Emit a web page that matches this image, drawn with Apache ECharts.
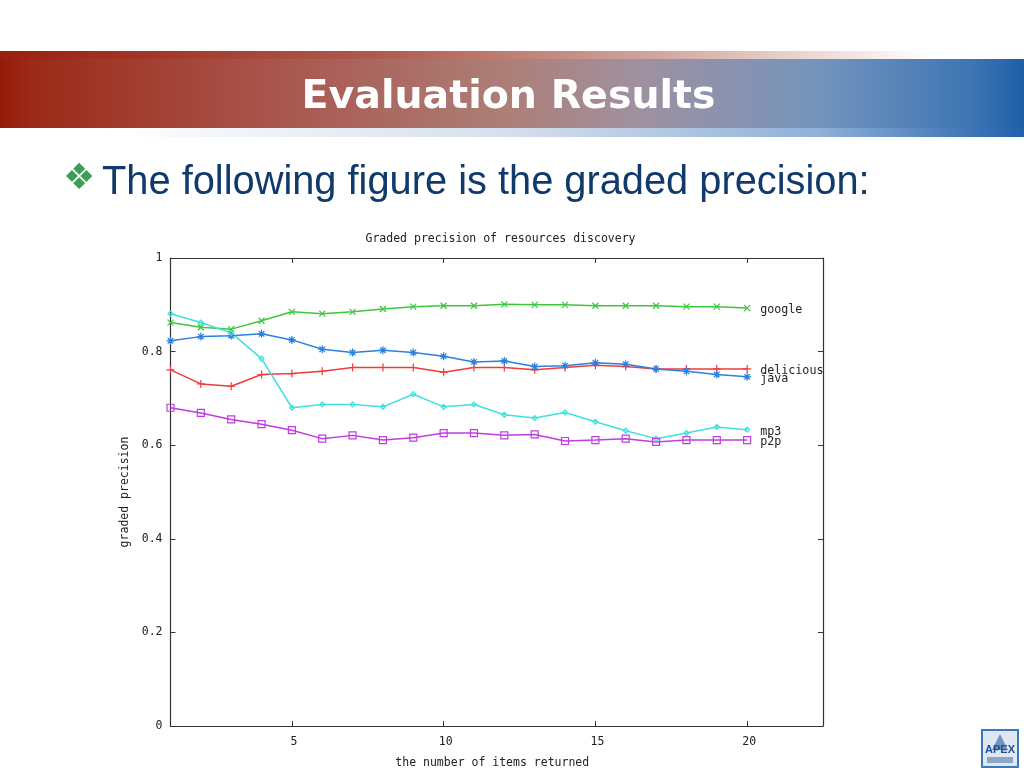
<!DOCTYPE html>
<html>
<head>
<meta charset="utf-8">
<style>html,body{margin:0;padding:0;background:#fff}#c{width:1024px;height:768px}</style>
<script src="https://cdn.jsdelivr.net/npm/echarts@6/dist/echarts.min.js"></script>
</head>
<body>
<div id="c"></div>
<script>
const items = [1,2,3,4,5,6,7,8,9,10,11,12,13,14,15,16,17,18,19,20];
const delicious = [.761,.731,.726,.751,.753,.758,.766,.766,.766,.756,.766,.766,.761,.766,.771,.768,.763,.763,.763,.763];
const google = [.862,.852,.848,.866,.885,.881,.885,.891,.896,.898,.898,.901,.900,.900,.898,.898,.898,.896,.896,.893];
const java = [.823,.832,.834,.838,.825,.805,.798,.803,.798,.790,.778,.780,.768,.770,.776,.773,.763,.758,.751,.746];
const mp3 = [.881,.862,.840,.785,.680,.687,.687,.682,.709,.682,.687,.665,.658,.670,.650,.631,.614,.626,.639,.633];
const p2p = [.680,.669,.655,.645,.632,.614,.621,.611,.616,.626,.626,.621,.623,.609,.611,.614,.607,.611,.611,.611];
const xTicks = [5,10,15,20];
const headline = 'Evaluation Results';
const bullet = 'The following figure is the graded precision:';
const chartTitle = 'Graded precision of resources discovery';
const xName = 'the number of items returned';
const yName = 'graded precision';

const mono = '"DejaVu Sans Mono"';
const ink = '#333';
const symX = 'path://M0 0L10 10M10 0L0 10';
const symPlus = 'path://M5 0L5 10M0 5L10 5';
const symStar = 'path://M5 0L5 10M0 5L10 5M1.5 1.5L8.5 8.5M8.5 1.5L1.5 8.5';
const symDiamond = 'path://M5 1L9 5L5 9L1 5Z';
const symSquare = 'path://M1 1L9 1L9 9L1 9Z';

function line(name, values, color, symbol, size){
  return {
    name, type:'line', data: items.map((x,i)=>[x,values[i]]),
    symbol, symbolSize:size, showSymbol:true, clip:false, silent:true,
    lineStyle:{color,width:1.5},
    itemStyle:{color:'rgba(0,0,0,0)',borderColor:color,borderWidth:1.2},
    endLabel:{show:true,formatter:name,position:'right',distance:13,offset:[0,2],color:'#222',
      fontFamily:mono,fontSize:11.7,fontWeight:'normal'}
  };
}
const chart = echarts.init(document.getElementById('c'),null,{renderer:'canvas'});
const axisLine = {show:true,onZero:false,lineStyle:{color:ink,width:1.2}};
const grad=(stops)=>({type:'linear',x:0,y:0,x2:1,y2:0,colorStops:stops.map(s=>({offset:s[0],color:s[1]}))});
chart.setOption({
  animation:false,
  backgroundColor:'#fff',
  title:{text:chartTitle,left:495.5,top:228,textAlign:'center',
    textStyle:{fontFamily:mono,fontSize:11.5,fontWeight:'normal',color:'#222'}},
  grid:{left:170.5,right:201,top:258,bottom:42,containLabel:false,outerBoundsMode:'none'},
  xAxis:[
    {type:'value',min:1,max:22.5,position:'bottom',name:xName,nameLocation:'middle',nameGap:31,
     nameTextStyle:{fontFamily:mono,fontSize:11.5,color:'#222',padding:[0,0,0,-9]},
     axisLine,splitLine:{show:false},
     axisTick:{show:true,inside:true,length:5,customValues:xTicks,lineStyle:{color:ink}},
     axisLabel:{customValues:xTicks,margin:10,padding:[0,0,0,4],fontFamily:mono,fontSize:11.5,color:'#222'}},
    {type:'value',min:1,max:22.5,position:'top',axisLine,splitLine:{show:false},
     axisTick:{show:true,inside:true,length:5,customValues:xTicks,lineStyle:{color:ink}},
     axisLabel:{show:false}}
  ],
  yAxis:[
    {type:'value',min:0,max:1,interval:.2,position:'left',name:yName,nameLocation:'middle',nameGap:39,
     nameTextStyle:{fontFamily:mono,fontSize:11.5,color:'#222'},
     axisLine,splitLine:{show:false},
     axisTick:{show:true,inside:true,length:5,lineStyle:{color:ink}},
     axisLabel:{margin:8,fontFamily:mono,fontSize:11.5,color:'#222'}},
    {type:'value',min:0,max:1,interval:.2,position:'right',axisLine,splitLine:{show:false},
     axisTick:{show:true,inside:true,length:5,lineStyle:{color:ink}},
     axisLabel:{show:false}}
  ],
  series:[
    line('delicious',delicious,'#f03c3c',symPlus,8),
    line('google',google,'#3fc63f',symX,6),
    line('java',java,'#2a80e0',symStar,8),
    line('mp3',mp3,'#40e0e0',symDiamond,5),
    line('p2p',p2p,'#c03ce0',symSquare,7)
  ],
  graphic:[
    {type:'rect',silent:true,shape:{x:0,y:51,width:930,height:9},
     style:{fill:grad([[0,'#9a1f0e'],[.4,'#ad5a4e'],[.7,'#d0a49c'],[1,'#ffffff']])}},
    {type:'rect',silent:true,shape:{x:0,y:128,width:1024,height:9},
     style:{fill:grad([[0,'#ffffff'],[.1,'#ffffff'],[.5,'#d5dfec'],[.8,'#8fb0d8'],[1,'#2161ab']])}},
    {type:'rect',silent:true,shape:{x:0,y:59,width:1024,height:69},
     style:{fill:grad([[0,'#981a08'],[.03,'#9b2a18'],[.25,'#a9524a'],[.5,'#ac8078'],[.62,'#a090a0'],[.8,'#7494bd'],[.95,'#3d75b4'],[1,'#1d5ea8']])}},
    {type:'text',silent:true,style:{text:headline,x:508.5,y:98,align:'center',verticalAlign:'middle',
      fill:'#fff',font:'bold 39.5px "DejaVu Sans"'}},
    {type:'text',silent:true,style:{text:'\u2756',x:63,y:180,verticalAlign:'middle',
      fill:'#3d9e58',font:'36px "DejaVu Sans"'}},
    {type:'text',silent:true,style:{text:bullet,x:102,y:183,verticalAlign:'middle',
      fill:'#0f3a6b',font:'39.8px "Liberation Sans"'}},
    {type:'rect',silent:true,shape:{x:982,y:730,width:36,height:37},
     style:{fill:'#dfe8f2',stroke:'#3f78b8',lineWidth:2}},
    {type:'polygon',silent:true,shape:{points:[[1000,734],[992,750],[1008,750]]},style:{fill:'#6f93bf'}},
    {type:'text',silent:true,style:{text:'APEX',x:1000,y:750,align:'center',verticalAlign:'middle',
      fill:'#1f4f94',font:'bold 11px "Liberation Sans"'}},
    {type:'rect',silent:true,shape:{x:987,y:757,width:26,height:6},style:{fill:'#8ea6c6'}}
  ]
});
</script>
</body>
</html>
